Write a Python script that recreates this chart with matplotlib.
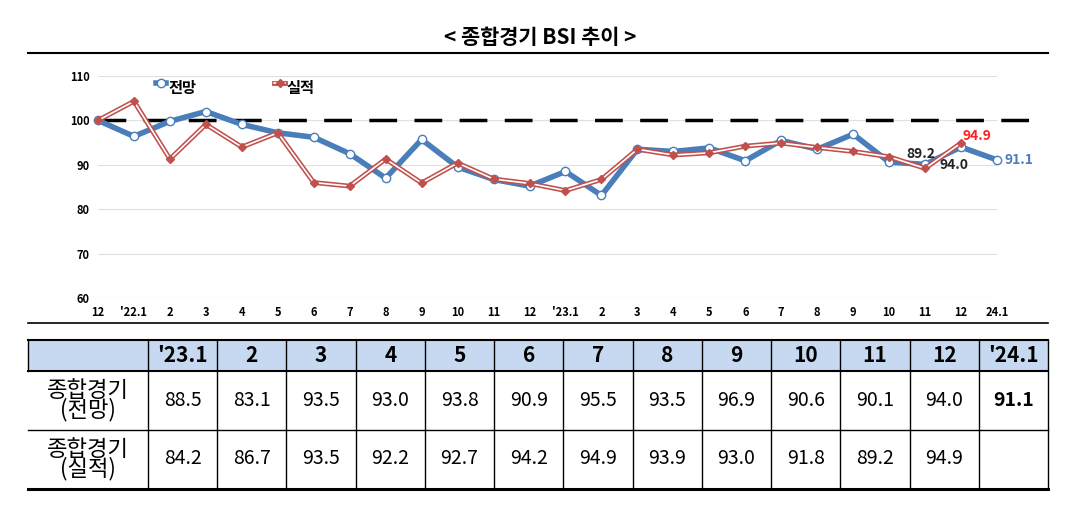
import matplotlib
matplotlib.use("Agg")
import matplotlib.pyplot as plt
from matplotlib.patches import Rectangle
from matplotlib.lines import Line2D

plt.rcParams['font.family'] = ['Noto Sans CJK KR', 'DejaVu Sans']

x_labels = ["12", "'22.1", "2", "3", "4", "5", "6", "7", "8", "9", "10", "11", "12",
            "'23.1", "2", "3", "4", "5", "6", "7", "8", "9", "10", "11", "12", "24.1"]
forecast = [100, 96.4, 99.8, 102.0, 99.1, 97.2, 96.2, 92.5, 87.0, 95.7, 89.5, 86.7, 85.2,
            88.5, 83.1, 93.5, 93.0, 93.8, 90.9, 95.5, 93.5, 96.9, 90.6, 90.1, 94.0, 91.1]
actual = [100, 104.3, 91.3, 99.1, 94.0, 97.2, 86.0, 85.2, 91.3, 85.9, 90.4, 86.8, 85.8,
          84.2, 86.7, 93.5, 92.2, 92.7, 94.2, 94.9, 93.9, 93.0, 91.8, 89.2, 94.9]
tbl_header = ["'23.1", "2", "3", "4", "5", "6", "7", "8", "9", "10", "11", "12", "'24.1"]
tbl_forecast = ["88.5", "83.1", "93.5", "93.0", "93.8", "90.9", "95.5", "93.5", "96.9", "90.6", "90.1", "94.0", "91.1"]
tbl_actual = ["84.2", "86.7", "93.5", "92.2", "92.7", "94.2", "94.9", "93.9", "93.0", "91.8", "89.2", "94.9", ""]

W, H = 1081, 515
fig = plt.figure(figsize=(W/100, H/100), dpi=100)

def fx(p): return p / W
def fy(p): return 1 - p / H

# title
fig.text(fx(540), fy(38), "< 종합경기 BSI 추이 >", ha='center', va='center', fontsize=15, fontweight='bold')
fig.add_artist(Line2D([fx(28), fx(1048)], [fy(53), fy(53)], color='black', lw=1.5))
fig.add_artist(Line2D([fx(28), fx(1048)], [fy(323), fy(323)], color='black', lw=1.2))

# chart
L, R, T, B = 98, 997, 76, 298
ax = fig.add_axes([fx(L), fy(B), fx(R - L), (B - T) / H])
ax.set_xlim(0, 25)
ax.set_ylim(60, 110)
for s in ax.spines.values():
    s.set_visible(False)
ax.set_yticks([60, 70, 80, 90, 100, 110])
ax.set_yticklabels(["60", "70", "80", "90", "100", "110"], fontsize=8, fontweight='bold')
ax.set_xticks(range(len(x_labels)))
ax.set_xticklabels(x_labels, fontsize=8, fontweight='bold')
ax.tick_params(length=0, pad=6)
ax.grid(axis='y', color='#e0e0e0', lw=0.8)
ax.axhline(60, color='#d0d0d0', lw=0.8)
ax.plot([0, 25.9], [100, 100], color='black', lw=2.5, dashes=(8, 5), zorder=2, clip_on=False)

xs = list(range(len(forecast)))
xa = list(range(len(actual)))
ax.plot(xs, forecast, color='#4a7ebb', lw=4, zorder=3, clip_on=False)
ax.plot(xs, forecast, ls='none', marker='o', ms=6, mfc='white', mec='#4a7ebb', mew=1, zorder=4, clip_on=False)
ax.plot(xa, actual, color='#c0504d', lw=3.5, zorder=5, clip_on=False)
ax.plot(xa, actual, color='white', lw=1.2, zorder=6, clip_on=False)
ax.plot(xa, actual, ls='none', marker='D', ms=4.5, mfc='#c0504d', mec='#c0504d', zorder=7, clip_on=False)

ax.text(23.3, 92.5, "89.2", fontsize=10, fontweight='bold', ha='right', va='center', color='#222222')
ax.text(24.2, 90.0, "94.0", fontsize=10, fontweight='bold', ha='right', va='center', color='#222222')
ax.text(24.05, 96.4, "94.9", fontsize=10, fontweight='bold', ha='left', va='center', color='#ff2020')
ax.text(25.2, 91.1, "91.1", fontsize=10, fontweight='bold', ha='left', va='center', color='#4a7ebb')

# legend
ax.plot([1.6, 1.9], [108.5, 108.5], color='#4a7ebb', lw=4, clip_on=False)
ax.plot([1.75], [108.5], marker='o', ms=6, mfc='white', mec='#4a7ebb', clip_on=False)
ax.text(1.95, 107.3, "전망", fontsize=11, fontweight='bold', va='center')
ax.plot([4.9, 5.2], [108.5, 108.5], color='#c0504d', lw=3.5, clip_on=False)
ax.plot([4.9, 5.2], [108.5, 108.5], color='white', lw=1.2, clip_on=False)
ax.plot([5.05], [108.5], marker='D', ms=4.5, color='#c0504d', clip_on=False)
ax.text(5.25, 107.3, "실적", fontsize=11, fontweight='bold', va='center')

# table
tL, tR = 28, 1048
c0 = 148
cw = (tR - c0) / 13
fig.add_artist(Rectangle((fx(tL), fy(371)), fx(tR - tL), (371 - 340) / H, facecolor='#c6d9f1', edgecolor='none'))
for yv, lw in [(340, 1.5), (371, 1.5), (430, 1.0), (489, 2.2)]:
    fig.add_artist(Line2D([fx(tL), fx(tR)], [fy(yv), fy(yv)], color='black', lw=lw))
for i in range(14):
    xv = c0 + i * cw
    fig.add_artist(Line2D([fx(xv), fx(xv)], [fy(340), fy(489)], color='black', lw=1.0))
fig.add_artist(Line2D([fx(tL), fx(tL)], [fy(340), fy(371)], color='black', lw=1.0))

for i in range(13):
    cx = c0 + (i + 0.5) * cw
    fig.text(fx(cx), fy(356), tbl_header[i], ha='center', va='center', fontsize=15, fontweight='bold')
    fig.text(fx(cx), fy(400), tbl_forecast[i], ha='center', va='center', fontsize=14,
             fontweight='bold' if i == 12 else 'normal')
    fig.text(fx(cx), fy(459), tbl_actual[i], ha='center', va='center', fontsize=14)
fig.text(fx(88), fy(400), "종합경기\n(전망)", ha='center', va='center', fontsize=16, linespacing=0.8)
fig.text(fx(88), fy(459), "종합경기\n(실적)", ha='center', va='center', fontsize=16, linespacing=0.8)

fig.savefig("out.png", dpi=100)
